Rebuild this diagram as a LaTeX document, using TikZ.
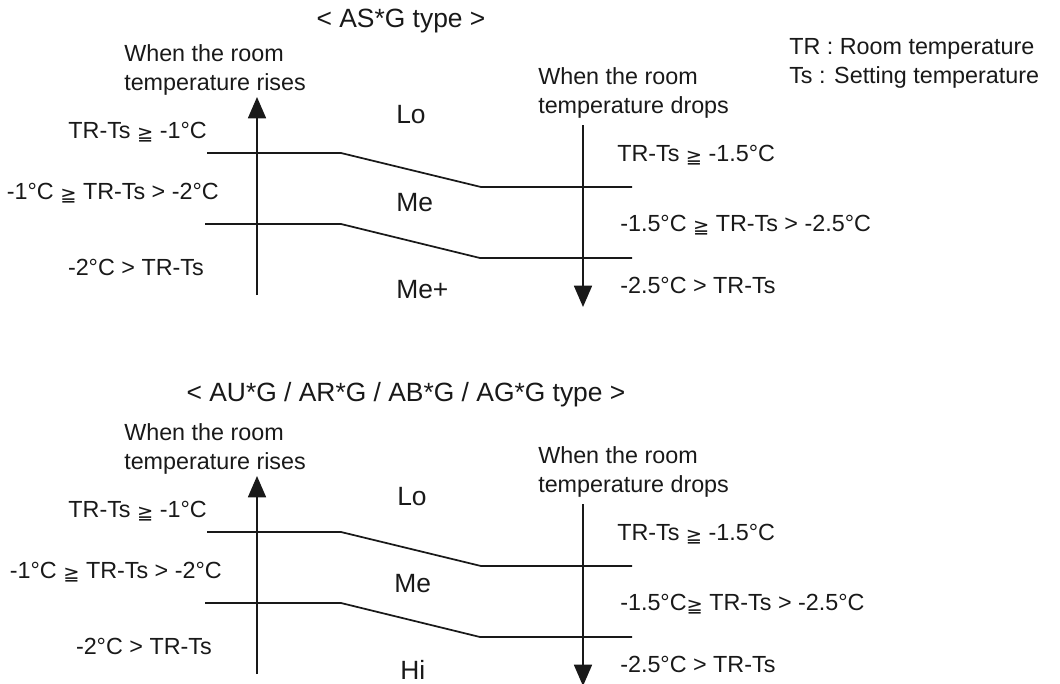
\documentclass[tikz,border=0pt]{standalone}
\usepackage{fontspec}
\setmainfont{Liberation Sans}
\newfontfamily\gqfont{DejaVu Sans}
\usetikzlibrary{arrows.meta}
\newcommand{\gqq}{\raisebox{-1.8pt}{\gqfont\fontsize{14.5}{15}\selectfont ≧}}
\tikzset{
  >={Triangle[length=16pt, width=13.5pt]},
  lbl/.style={
    inner sep=0pt, text=black!90,
    font=\fontsize{17.5}{21.75}\selectfont
  },
  biglbl/.style={lbl, font=\fontsize{19.8}{22}\selectfont},
  note/.style={lbl, align=left},
  level/.style={line width=1.3pt, draw=black!90, line join=miter},
  axis/.style={line width=1.3pt, draw=black!90, ->},
}

\begin{document}
\begin{tikzpicture}[x=0.75pt, y=-0.75pt]
\useasboundingbox (0,0) rectangle (1060,683);

% ---- Legend ---------------------------------------------------------
\node[note, anchor=north west] (legend) at (789,38)
  {TR : Room temperature\\Ts : Setting temperature};

% ---- Panel A: AS*G type ---------------------------------------------
\node[biglbl, anchor=base] (titleA) at (401,27) {< AS*G type >};
\node[note, anchor=north west] (riseA) at (124,44) {When the room\\temperature rises};
\node[note, anchor=north west] (dropA) at (538,67) {When the room\\temperature drops};

% left side: thresholds while rising
\node[lbl, anchor=base east] (upA1) at (207,138) {TR-Ts \gqq{} -1°C};
\node[lbl, anchor=base east] (upA2) at (219,199) {-1°C \gqq{} TR-Ts > -2°C};
\node[lbl, anchor=base east] (upA3) at (204,275) {-2°C > TR-Ts};

% fan speed bands
\node[biglbl, anchor=base west] (loA)  at (396,123) {Lo};
\node[biglbl, anchor=base west] (meA)  at (396,211) {Me};
\node[biglbl, anchor=base west] (mepA) at (396,298) {Me+};

% right side: thresholds while dropping
\node[lbl, anchor=base west] (dnA1) at (617,161) {TR-Ts \gqq{} -1.5°C};
\node[lbl, anchor=base west] (dnA2) at (620,231) {-1.5°C \gqq{} TR-Ts > -2.5°C};
\node[lbl, anchor=base west] (dnA3) at (620,293) {-2.5°C > TR-Ts};

% band borders
\draw[level] (207,153) -- (341,153) -- (481,187) -- (632,187);
\draw[level] (205,224) -- (341,224) -- (480,258) -- (632,258);

% axes
\coordinate (riseA_s) at (257,295);
\coordinate (riseA_e) at (257,97);
\coordinate (dropA_s) at (583,125);
\coordinate (dropA_e) at (583,307);
\draw[axis] (riseA_s) -- (riseA_e);
\draw[axis] (dropA_s) -- (dropA_e);

% ---- Panel B: AU*G / AR*G / AB*G / AG*G type ------------------------
\begin{scope}[shift={(0,379)}]
\node[biglbl, anchor=base] (titleB) at (406,22) {< AU*G / AR*G / AB*G / AG*G type >};
\node[note, anchor=north west] (riseB) at (124,44) {When the room\\temperature rises};
\node[note, anchor=north west] (dropB) at (538,67) {When the room\\temperature drops};

\node[lbl, anchor=base east] (upB1) at (207,138) {TR-Ts \gqq{} -1°C};
\node[lbl, anchor=base east] (upB2) at (222,199) {-1°C \gqq{} TR-Ts > -2°C};
\node[lbl, anchor=base east] (upB3) at (212,275) {-2°C > TR-Ts};

\node[biglbl, anchor=base west] (loB) at (397,126) {Lo};
\node[biglbl, anchor=base west] (meB) at (394,213) {Me};
\node[biglbl, anchor=base west] (hiB) at (400,300) {Hi};

\node[lbl, anchor=base west] (dnB1) at (617,161) {TR-Ts \gqq{} -1.5°C};
\node[lbl, anchor=base west] (dnB2) at (620,231) {-1.5°C\gqq{} TR-Ts > -2.5°C};
\node[lbl, anchor=base west] (dnB3) at (620,293) {-2.5°C > TR-Ts};

\draw[level] (207,153) -- (341,153) -- (481,187) -- (632,187);
\draw[level] (205,224) -- (341,224) -- (480,258) -- (632,258);

\coordinate (riseB_s) at (257,295);
\coordinate (riseB_e) at (257,97);
\coordinate (dropB_s) at (583,125);
\coordinate (dropB_e) at (583,307);
\draw[axis] (riseB_s) -- (riseB_e);
\draw[axis] (dropB_s) -- (dropB_e);
\end{scope}

\end{tikzpicture}
\end{document}
